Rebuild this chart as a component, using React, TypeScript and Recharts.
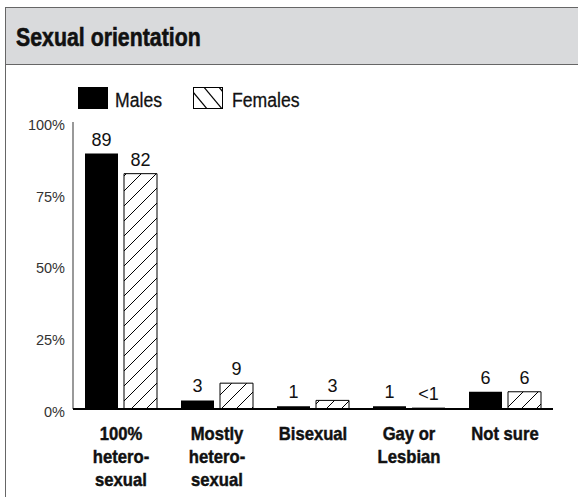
import React from "react";
import { BarChart, Bar, XAxis, YAxis, LabelList } from "recharts";

const categories = ["100%\nhetero-\nsexual", "Mostly\nhetero-\nsexual", "Bisexual", "Gay or\nLesbian", "Not sure"];
const maleValues = [89, 3, 1, 1, 6];
const femaleValues = [82, 9, 3, 0.3, 6];
const maleLabels = ["89", "3", "1", "1", "6"];
const femaleLabels = ["82", "9", "3", "<1", "6"];
const yTicks = [0, 25, 50, 75, 100];

const data = categories.map((c, i) => ({
  cat: c,
  male: maleValues[i],
  female: femaleValues[i],
  maleLabel: maleLabels[i],
  femaleLabel: femaleLabels[i],
}));

const SANS = "'Liberation Sans', Arial, sans-serif";

const XTick = (props: any) => {
  const { x, y, payload } = props;
  const lines = String(payload.value).split("\n");
  return (
    <text
      transform={`translate(${x} ${y}) scale(0.9 1)`}
      textAnchor="middle"
      fontFamily={SANS}
      fontWeight="bold"
      fontSize={18.5}
      fill="#111"
      stroke="#111"
      strokeWidth={0.45}
    >
      {lines.map((l, i) => (
        <tspan key={i} x={0} y={23 + i * 23}>
          {l}
        </tspan>
      ))}
    </text>
  );
};

const YTick = (props: any) => {
  const { x, y, payload } = props;
  return (
    <text
      x={x}
      y={y + 4}
      textAnchor="end"
      dominantBaseline="middle"
      fontFamily={SANS}
      fontSize={14.5}
      fill="#333"
    >
      {payload.value}%
    </text>
  );
};

export default function App() {
  return (
    <div style={{ position: "absolute", left: 0, top: 0, width: 578, height: 497, background: "#fff", overflow: "hidden" }}>
      <div
        style={{
          position: "absolute",
          left: 5,
          top: 7,
          width: 600,
          height: 520,
          border: "1.5px solid #666",
          boxSizing: "border-box",
        }}
      />
      <div
        style={{
          position: "absolute",
          left: 6,
          top: 8,
          width: 600,
          height: 56,
          background: "#d9dadc",
          borderBottom: "1.5px solid #666",
        }}
      />
      <svg style={{ position: "absolute", left: 0, top: 0 }} width={578} height={130}>
        <defs>
          <clipPath id="legclip">
            <rect x={193} y={87} width={30} height={22} />
          </clipPath>
        </defs>
        <text
          transform="translate(16 46) scale(0.82 1)"
          fontFamily={SANS}
          fontWeight="bold"
          fontSize={26}
          fill="#111"
          stroke="#111"
          strokeWidth={0.6}
        >
          Sexual orientation
        </text>
        <rect x={78} y={87} width={30} height={22} fill="#000" />
        <text transform="translate(115 107) scale(0.84 1)" fontFamily={SANS} fontSize={21} fill="#111" stroke="#111" strokeWidth={0.3}>
          Males
        </text>
        <g clipPath="url(#legclip)">
          <rect x={193} y={87} width={30} height={22} fill="#fff" />
          <line x1={183} y1={80} x2={213} y2={116} stroke="#000" strokeWidth={1.2} />
          <line x1={198} y1={80} x2={228} y2={116} stroke="#000" strokeWidth={1.2} />
          <line x1={213} y1={80} x2={243} y2={116} stroke="#000" strokeWidth={1.2} />
        </g>
        <rect x={193.5} y={87.5} width={29} height={21} fill="none" stroke="#000" strokeWidth={1} />
        <text transform="translate(232 107) scale(0.84 1)" fontFamily={SANS} fontSize={21} fill="#111" stroke="#111" strokeWidth={0.3}>
          Females
        </text>
      </svg>
      <div style={{ position: "absolute", left: 0, top: 0 }}>
        <BarChart
          width={578}
          height={497}
          data={data}
          margin={{ top: 122, right: 25, left: 0, bottom: 0 }}
          barCategoryGap="12.5%"
          barGap={6}
        >
          <defs>
            <pattern id="hatch" patternUnits="userSpaceOnUse" width={15} height={15}>
              <rect width={15} height={15} fill="#fff" />
              <path d="M0,15 L15,0 M-4,4 L4,-4 M11,19 L19,11" stroke="#000" strokeWidth={1} />
            </pattern>
          </defs>
          <YAxis
            width={73}
            domain={[0, 100]}
            ticks={yTicks}
            tick={<YTick />}
            tickLine={false}
            axisLine={{ stroke: "#777", strokeWidth: 1.5 }}
            interval={0}
          />
          <XAxis
            dataKey="cat"
            height={88}
            tick={<XTick />}
            tickLine={false}
            axisLine={{ stroke: "#000", strokeWidth: 2 }}
            interval={0}
          />
          <Bar dataKey="male" fill="#000" barSize={33} isAnimationActive={false}>
            <LabelList
              dataKey="maleLabel"
              position="top"
              offset={8}
              fontFamily={SANS}
              fontSize={18}
              fill="#111"
            />
          </Bar>
          <Bar dataKey="female" fill="url(#hatch)" stroke="#000" strokeWidth={1} barSize={33} isAnimationActive={false}>
            <LabelList
              dataKey="femaleLabel"
              position="top"
              offset={8}
              fontFamily={SANS}
              fontSize={18}
              fill="#111"
            />
          </Bar>
        </BarChart>
      </div>
    </div>
  );
}
